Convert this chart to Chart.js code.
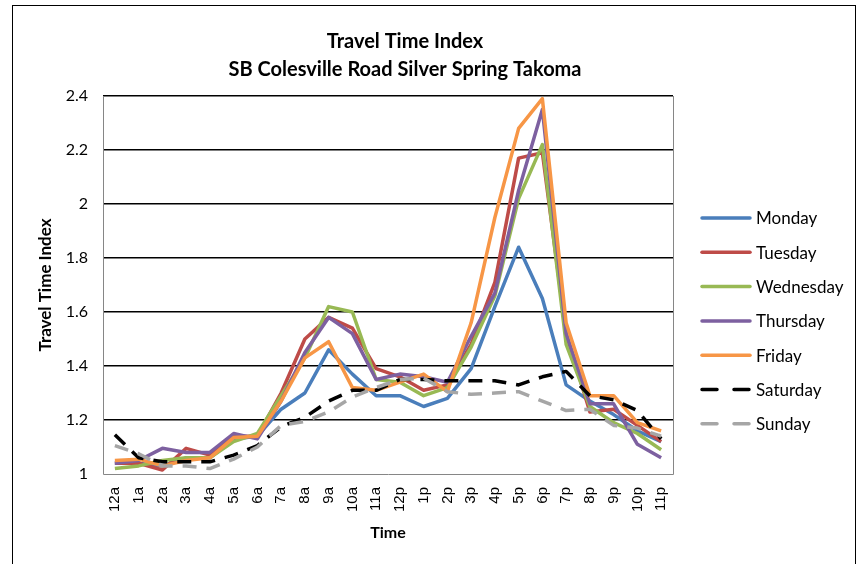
<!DOCTYPE html>
<html>
<head>
<meta charset="utf-8">
<style>
html,body{margin:0;padding:0;background:#fff;}
#wrap{position:relative;width:861px;height:564px;overflow:hidden;}
canvas{display:block;}
</style>
<script src="https://cdn.jsdelivr.net/npm/chart.js@4"></script>
</head>
<body>
<div id="wrap"><canvas id="c" width="861" height="564"></canvas></div>
<script>
const categories = ['12a','1a','2a','3a','4a','5a','6a','7a','8a','9a','10a','11a','12p','1p','2p','3p','4p','5p','6p','7p','8p','9p','10p','11p'];
const seriesNames = ['Monday','Tuesday','Wednesday','Thursday','Friday','Saturday','Sunday'];
const monday    = [1.04,1.04,1.03,1.06,1.06,1.13,1.14,1.24,1.30,1.46,1.37,1.29,1.29,1.25,1.28,1.39,1.62,1.84,1.65,1.33,1.27,1.22,1.16,1.12];
const tuesday   = [1.04,1.04,1.015,1.095,1.07,1.14,1.14,1.30,1.50,1.58,1.54,1.39,1.36,1.31,1.33,1.48,1.71,2.17,2.19,1.52,1.23,1.24,1.18,1.12];
const wednesday = [1.02,1.03,1.05,1.06,1.06,1.12,1.15,1.29,1.43,1.62,1.60,1.35,1.34,1.29,1.32,1.47,1.66,2.02,2.22,1.48,1.25,1.19,1.15,1.09];
const thursday  = [1.04,1.05,1.095,1.08,1.08,1.15,1.13,1.27,1.45,1.58,1.52,1.35,1.37,1.36,1.34,1.51,1.67,2.05,2.35,1.52,1.26,1.26,1.11,1.06];
const friday    = [1.05,1.055,1.03,1.05,1.06,1.135,1.14,1.27,1.43,1.49,1.32,1.31,1.34,1.37,1.305,1.56,1.95,2.28,2.39,1.56,1.29,1.29,1.19,1.16];
const saturday  = [1.145,1.06,1.045,1.045,1.045,1.07,1.105,1.175,1.21,1.27,1.31,1.31,1.35,1.35,1.345,1.345,1.345,1.33,1.36,1.38,1.29,1.275,1.235,1.13];
const sunday    = [1.105,1.075,1.03,1.03,1.02,1.055,1.10,1.18,1.195,1.23,1.285,1.32,1.35,1.355,1.305,1.295,1.30,1.305,1.27,1.235,1.24,1.18,1.17,1.14];
const yTickValues = [1,1.2,1.4,1.6,1.8,2,2.2,2.4];
const yTickLabels = ['1','1.2','1.4','1.6','1.8','2','2.2','2.4'];
const chartTitle = ['Travel Time Index','SB Colesville Road Silver Spring Takoma'];
const xAxisTitle = 'Time';
const yAxisTitle = 'Travel Time Index';

const seriesData = [monday,tuesday,wednesday,thursday,friday,saturday,sunday];
const colors = ['#4A7EBB','#BE4B48','#98B954','#7D60A0','#F79646','#000000','#A6A6A6'];
const dashes = [[],[],[],[],[],[14,10],[14,10]];

const decor = {
  id:'decor',
  beforeDatasetsDraw(chart){
    const {ctx, chartArea:a} = chart;
    ctx.save();
    ctx.strokeStyle = '#868686';
    ctx.lineWidth = 1;
    ctx.beginPath();
    ctx.moveTo(a.left+0.5, a.top);
    ctx.lineTo(a.left+0.5, a.bottom+0.5);
    ctx.lineTo(a.right+0.5, a.bottom+0.5);
    ctx.lineTo(a.right+0.5, a.top);
    ctx.stroke();
    ctx.restore();
  },
  afterDraw(chart){
    const {ctx} = chart;
    ctx.save();
    ctx.strokeStyle = '#000';
    ctx.lineWidth = 1;
    ctx.strokeRect(12.5, 5.5, 843, 620);
    ctx.fillStyle = '#000';
    ctx.textAlign = 'center';
    ctx.textBaseline = 'middle';
    ctx.font = 'bold 20px Lato';
    ctx.fillText(chartTitle[0], 405, 42);
    ctx.fillText(chartTitle[1], 405, 70);
    ctx.font = 'bold 16px Lato';
    ctx.fillText(xAxisTitle, 388, 533);
    ctx.save();
    ctx.translate(46, 285);
    ctx.rotate(-Math.PI/2);
    ctx.font = 'bold 17px Lato';
    ctx.fillText(yAxisTitle, 0, 0);
    ctx.restore();
    const y0 = 218, dy = 34.3;
    chart.data.datasets.forEach((ds,i)=>{
      const y = y0 + i*dy;
      ctx.save();
      ctx.strokeStyle = ds.borderColor;
      ctx.lineWidth = 3.5;
      ctx.lineCap = 'round';
      if (ds.borderDash && ds.borderDash.length) ctx.setLineDash([15,17]);
      ctx.beginPath();
      ctx.moveTo(702, y);
      ctx.lineTo(750, y);
      ctx.stroke();
      ctx.restore();
      ctx.font = '17px Lato';
      ctx.textAlign = 'left';
      ctx.fillStyle = '#000';
      ctx.fillText(ds.label, 756, y+1);
    });
    ctx.restore();
  }
};

new Chart(document.getElementById('c'), {
  type:'line',
  data:{
    labels: categories,
    datasets: seriesNames.map((n,i)=>({
      label:n, data:seriesData[i], borderColor:colors[i], backgroundColor:colors[i],
      borderWidth:3.5, borderDash:dashes[i], pointRadius:0, tension:0, fill:false,
      order:6-i, borderCapStyle:'butt', borderJoinStyle:'round'
    }))
  },
  options:{
    responsive:false, animation:false, devicePixelRatio:1,
    layout:{padding:{left:0, top:96, right:188, bottom:0}},
    plugins:{legend:{display:false}, title:{display:false}, tooltip:{enabled:false}},
    scales:{
      x:{
        type:'category', offset:true,
        grid:{display:false, drawTicks:false},
        border:{display:false},
        ticks:{minRotation:90, maxRotation:90, autoSkip:false, padding:13, color:'#000', font:{family:'Liberation Sans', size:15}},
        afterFit(s){ s.height = 90; }
      },
      y:{
        min:1, max:2.4,
        grid:{color:(c)=> (c.tick && c.tick.value===1) ? 'rgba(0,0,0,0)' : '#000', lineWidth:1.5, drawTicks:false},
        border:{display:false},
        ticks:{padding:15, color:'#000', font:{family:'Lato', size:16},
          callback:(v)=>{ const k = yTickValues.findIndex(t=>Math.abs(t-v)<1e-6); return k>=0 ? yTickLabels[k] : ''; }},
        afterBuildTicks(s){ s.ticks = yTickValues.map(v=>({value:v})); },
        afterFit(s){ s.width = 103; }
      }
    }
  },
  plugins:[decor]
});
</script>
</body>
</html>
